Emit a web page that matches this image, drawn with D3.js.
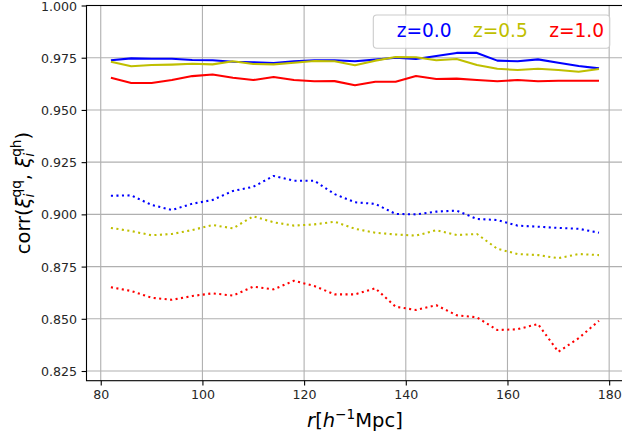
<!DOCTYPE html>
<html>
<head>
<meta charset="utf-8">
<script src="https://cdn.jsdelivr.net/npm/d3@7"></script>
<style>
  body { margin: 0; background: #fff; }
  svg text { font-family: "DejaVu Sans", sans-serif; }
</style>
</head>
<body>
<svg id="chart" width="622" height="436"></svg>
<script>
// separation r [h^-1 Mpc]
const r = [82, 86, 90, 94, 98, 102, 106, 110, 114, 118, 122, 126, 130,
           134, 138, 142, 146, 150, 154, 158, 162, 166, 170, 174, 178];

// solid curves
const solidZ00 = [0.9738, 0.9747, 0.9745, 0.9745, 0.9739, 0.9738, 0.9731, 0.9728, 0.9725, 0.9733, 0.9738, 0.9738, 0.9733,
                  0.9741, 0.9750, 0.9744, 0.9758, 0.9773, 0.9773, 0.9736, 0.9733, 0.9742, 0.9726, 0.9710, 0.9699];
const solidZ05 = [0.9731, 0.9709, 0.9715, 0.9717, 0.9721, 0.9718, 0.9733, 0.9720, 0.9718, 0.9726, 0.9734, 0.9733, 0.9714,
                  0.9736, 0.9753, 0.9752, 0.9738, 0.9744, 0.9715, 0.9697, 0.9691, 0.9697, 0.9691, 0.9683, 0.9696];
const solidZ10 = [0.9654, 0.9629, 0.9629, 0.9643, 0.9662, 0.9670, 0.9654, 0.9643, 0.9658, 0.9643, 0.9637, 0.9638, 0.9618,
                  0.9635, 0.9635, 0.9662, 0.9648, 0.9650, 0.9643, 0.9637, 0.9643, 0.9637, 0.9640, 0.9640, 0.9640];

// dotted curves
const dottedZ00 = [0.9089, 0.9091, 0.9045, 0.9021, 0.9051, 0.9069, 0.9112, 0.9132, 0.9184, 0.9161, 0.9161, 0.9097, 0.9058,
                   0.9050, 0.9002, 0.9000, 0.9013, 0.9018, 0.8978, 0.8973, 0.8946, 0.8941, 0.8935, 0.8931, 0.8912];
const dottedZ05 = [0.8935, 0.8920, 0.8900, 0.8906, 0.8925, 0.8949, 0.8933, 0.8991, 0.8962, 0.8946, 0.8952, 0.8965, 0.8931,
                   0.8912, 0.8904, 0.8898, 0.8924, 0.8901, 0.8906, 0.8835, 0.8810, 0.8805, 0.8790, 0.8810, 0.8805];
const dottedZ10 = [0.8651, 0.8633, 0.8601, 0.8591, 0.8609, 0.8622, 0.8611, 0.8654, 0.8641, 0.8682, 0.8657, 0.8617, 0.8617,
                   0.8646, 0.8558, 0.8542, 0.8565, 0.8517, 0.8507, 0.8446, 0.8450, 0.8475, 0.8342, 0.8407, 0.8491];

const legendLabels = ["z=0.0", "z=0.5", "z=1.0"];
const xTicks = [80, 100, 120, 140, 160, 180];
const yTicks = [0.825, 0.850, 0.875, 0.900, 0.925, 0.950, 0.975, 1.000];

const colors = ["#0000ff", "#bfbf00", "#ff0000"];

const plot = { left: 86.5, right: 623.4, top: 5.5, bottom: 380.7 };

const x = d3.scaleLinear().domain([77.2, 182.8]).range([plot.left, plot.right]);
const y = d3.scaleLinear().domain([0.82036, 1.0]).range([plot.bottom, plot.top]);

const svg = d3.select("#chart");

svg.append("defs").append("clipPath").attr("id", "plotClip")
  .append("rect")
  .attr("x", plot.left).attr("y", plot.top)
  .attr("width", plot.right - plot.left).attr("height", plot.bottom - plot.top);

// grid
const grid = svg.append("g").attr("stroke", "#b0b0b0").attr("stroke-width", 1.1);
grid.selectAll("line.vx").data(xTicks).join("line")
  .attr("x1", d => x(d)).attr("x2", d => x(d))
  .attr("y1", plot.top).attr("y2", plot.bottom);
grid.selectAll("line.hy").data(yTicks).join("line")
  .attr("x1", plot.left).attr("x2", plot.right)
  .attr("y1", d => y(d)).attr("y2", d => y(d));

// curves
const line = d3.line().x((d, i) => x(r[i])).y(d => y(d));
const curves = [
  { v: solidZ00, c: 0, dash: null },
  { v: solidZ05, c: 1, dash: null },
  { v: solidZ10, c: 2, dash: null },
  { v: dottedZ00, c: 0, dash: "2.08,3.44" },
  { v: dottedZ05, c: 1, dash: "2.08,3.44" },
  { v: dottedZ10, c: 2, dash: "2.08,3.44" }
];
const curveG = svg.append("g").attr("clip-path", "url(#plotClip)");
curves.forEach(s => {
  curveG.append("path")
    .attr("d", line(s.v))
    .attr("fill", "none")
    .attr("stroke", colors[s.c])
    .attr("stroke-width", 2.08)
    .attr("stroke-linejoin", "round")
    .attr("stroke-dasharray", s.dash);
});

// axes
const xAxis = d3.axisBottom(x).tickValues(xTicks).tickFormat(d3.format("d"))
  .tickSizeInner(4.9).tickSizeOuter(0).tickPadding(4.6);
const yAxis = d3.axisLeft(y).tickValues(yTicks).tickFormat(d3.format(".3f"))
  .tickSizeInner(4.9).tickSizeOuter(0).tickPadding(4.6);

const gx = svg.append("g").attr("transform", `translate(0,${plot.bottom})`).call(xAxis);
const gy = svg.append("g").attr("transform", `translate(${plot.left},0)`).call(yAxis);
[gx, gy].forEach(g => {
  g.select(".domain").remove();
  g.selectAll(".tick line").attr("stroke", "#000").attr("stroke-width", 1.1);
  g.selectAll(".tick text").attr("fill", "#262626").attr("font-size", 12.6)
    .attr("font-family", "DejaVu Sans, sans-serif");
});
gy.selectAll(".tick text").attr("dy", "0.36em");

// spines
const spines = svg.append("g").attr("stroke", "#000").attr("stroke-width", 1.1).attr("fill", "none");
spines.append("rect")
  .attr("x", plot.left).attr("y", plot.top)
  .attr("width", plot.right - plot.left).attr("height", plot.bottom - plot.top);

// text with sub/superscripts, laid out piece by piece
function mathText(parent, pieces, size) {
  const t = parent.append("text").attr("font-size", size).attr("fill", "#000");
  let curY = 0, lastW = 0;
  pieces.forEach(p => {
    const fs = (p.scale || 1) * size;
    const target = -(p.shift || 0) * size;
    const s = t.append("tspan").text(p.t)
      .attr("font-size", fs)
      .attr("font-style", p.it ? "italic" : "normal")
      .attr("dy", target - curY);
    if (p.back) s.attr("dx", -lastW);
    curY = target;
    lastW = s.node().getComputedTextLength();
  });
  const w = t.node().getBBox().width;
  t.attr("x", -w / 2);
  return t;
}

// x label
const xl = svg.append("g").attr("transform", `translate(${(plot.left + plot.right) / 2},426.7)`);
mathText(xl, [
  { t: "r", it: true },
  { t: "[" },
  { t: "h", it: true },
  { t: "\u22121", scale: 0.7, shift: 0.42 },
  { t: "Mpc" },
  { t: "]" }
], 19.5);

// y label
const yl = svg.append("g").attr("transform", `translate(30,${(plot.top + plot.bottom) / 2}) rotate(-90)`);
mathText(yl, [
  { t: "corr(" },
  { t: "\u03be", it: true },
  { t: "i", it: true, scale: 0.7, shift: -0.2 },
  { t: "qq", scale: 0.7, shift: 0.45, back: true },
  { t: ", " },
  { t: "\u03be", it: true },
  { t: "i", it: true, scale: 0.7, shift: -0.2 },
  { t: "qh", scale: 0.7, shift: 0.45, back: true },
  { t: ")" }
], 19.5);

// legend (text only, coloured by series)
const lg = svg.append("g");
const box = lg.append("rect")
  .attr("rx", 3.5).attr("ry", 3.5)
  .attr("fill", "#fff").attr("fill-opacity", 0.8)
  .attr("stroke", "#cccccc").attr("stroke-width", 1.1);
const legendFont = 18.6, padL = 23.4, gap = 21.3, baseY = 36.7, boxLeft = 373.3;
let cx = boxLeft + padL;
legendLabels.forEach((lab, i) => {
  const t = lg.append("text").attr("x", cx).attr("y", baseY)
    .attr("font-size", legendFont).attr("fill", colors[i]).text(lab);
  cx += t.node().getComputedTextLength() + gap;
});
const boxRight = cx - gap + 5.7;
box.attr("x", boxLeft).attr("y", 15).attr("width", boxRight - boxLeft).attr("height", 33.3);
</script>
</body>
</html>
